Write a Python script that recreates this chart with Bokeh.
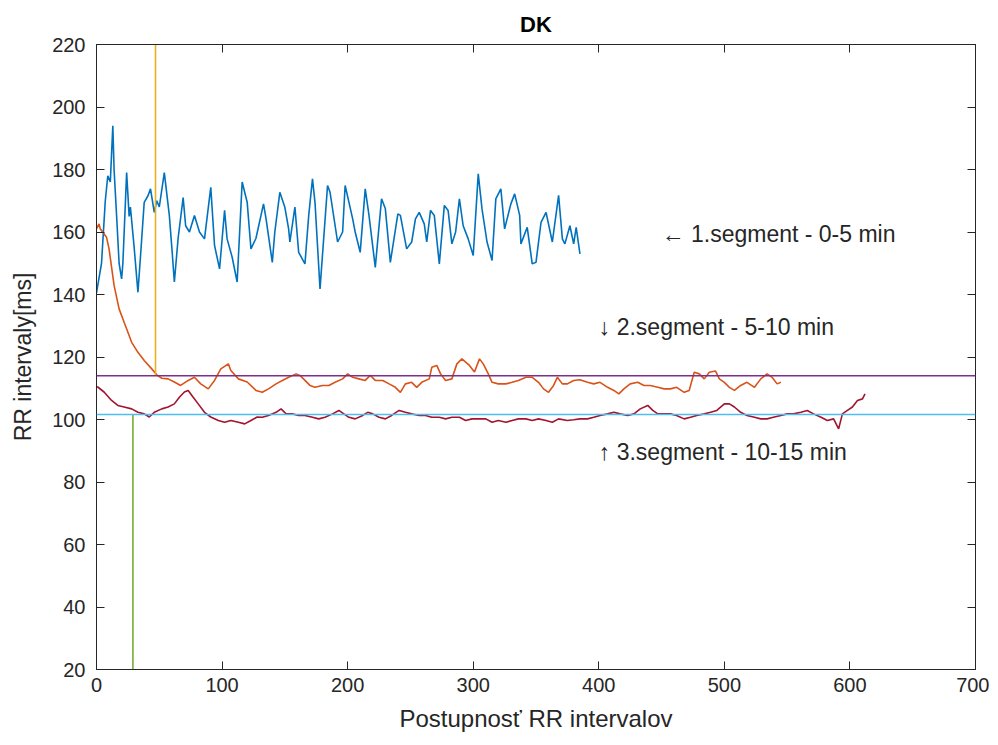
from bokeh.plotting import figure
from bokeh.models import LinearAxis, Range1d, FixedTicker, Span, Title
from bokeh.core.properties import value
from bokeh.embed import file_html
from bokeh.resources import INLINE

# ---- data ----
seg1_x = [0, 4, 7, 9, 11, 13, 14, 16, 18, 20, 21, 24, 26, 27, 30, 33, 35, 38, 41, 43, 46, 48, 50, 54, 58, 60,
          62, 65, 69, 71, 74, 78, 82, 86, 91, 94, 98, 102, 104, 108, 112, 116, 120, 123, 127, 133, 135, 140,
          142, 146, 150, 153, 154, 158, 161, 166, 169, 172, 174, 178, 184, 186, 192, 196, 198, 204, 206, 210,
          214, 217, 222, 227, 230, 234, 240, 242, 247, 251, 254, 257, 261, 263, 266, 269, 273, 277, 280, 283,
          286, 289, 292, 296, 300, 304, 307, 311, 315, 318, 322, 325, 330, 333, 337, 338, 343, 347, 350, 354,
          358, 363, 368, 371, 373, 377, 380, 382, 385]
seg1_y = [140.5, 150, 170, 178, 176, 194, 180, 165.3, 150, 145, 150, 179, 165, 168, 155, 140.7, 152, 169.5,
          171.6, 173.8, 166.3, 170, 168, 179, 165.3, 155, 144, 158, 171, 162, 160, 165.3, 160, 157.8, 174.3,
          155.7, 148.2, 166.9, 157.8, 152, 144, 176, 169.5, 154.6, 158, 169, 164.3, 150.3, 160, 172.7, 167.9,
          161, 156.8, 168, 153.5, 149.8, 165.3, 177, 169.5, 141.8, 174.9, 172.7, 156.8, 160, 174.9, 164.2,
          160, 153.5, 173.8, 165.3, 148.7, 170.6, 167.5, 150.3, 165.8, 165.3, 154.6, 156.8, 164.2, 166.3,
          162.6, 156.8, 166.9, 165.3, 149.8, 168.5, 166.9, 156.2, 160, 170.6, 162, 157.8, 152.5, 178.6, 167.4,
          156.8, 150.9, 170.6, 173.8, 161, 169, 172.2, 165.3, 156.2, 161.5, 149.8, 150.3, 163.1, 166.3, 156.8,
          171.7, 157.8, 156.2, 162, 156.2, 161.5, 153]

seg2_x = [0, 2, 3, 4, 8, 10, 14, 18, 22, 28, 33, 38, 44, 48, 52, 57, 62, 67, 73, 78, 83, 89, 94, 99, 105, 107,
          113, 120, 127, 132, 137, 143, 148, 153, 159, 162, 166, 170, 174, 180, 185, 190, 196, 200, 204, 209,
          214, 218, 222, 228, 233, 238, 242, 246, 251, 255, 259, 265, 267, 271, 274, 278, 283, 287, 291, 297,
          301, 305, 308, 312, 315, 320, 326, 331, 336, 342, 347, 352, 356, 360, 364, 367, 371, 375, 380, 385,
          391, 396, 401, 407, 412, 416, 420, 425, 431, 436, 441, 447, 452, 457, 462, 468, 472, 476, 480, 484,
          488, 493, 496, 500, 504, 508, 513, 518, 524, 529, 534, 538, 542, 545]
seg2_y = [161, 162.6, 161, 160.5, 158.3, 154.6, 142.9, 135.4, 131.1, 124.7, 121.5, 118.9, 116.2, 114.3, 113.2,
          113, 112, 110.9, 112.5, 113.5, 111.4, 109.8, 112.5, 116.2, 117.8, 115.7, 113, 112, 109.3, 108.7,
          109.8, 111.4, 112.5, 113.5, 114.6, 114.1, 112.5, 110.9, 110.3, 110.9, 110.9, 111.9, 113, 114.6,
          113.5, 113, 112.5, 114.1, 112.5, 112.5, 111.4, 110.3, 108.7, 111.4, 111.9, 110.3, 111.9, 113, 116.7,
          117.3, 114.6, 112.5, 113, 117.8, 119.4, 117.3, 115.2, 119.4, 117.8, 114.6, 111.9, 111.4, 111.4,
          111.9, 112.5, 113.5, 113.5, 111.9, 109.8, 108.7, 110.9, 113.5, 111.4, 111.4, 112.5, 112.7, 111.9,
          111.4, 111.9, 110.3, 109.3, 108.2, 109.8, 111.4, 111.9, 110.9, 110.9, 110.3, 109.8, 109.8, 110.3,
          108.7, 109.3, 115.1, 114.6, 113, 115.1, 115.5, 113, 111.9, 110.3, 109.3, 110.9, 111.9, 110.3, 113,
          114.6, 113.5, 111.4, 111.9]

seg3_x = [0, 1, 6, 12, 17, 22, 28, 33, 38, 42, 46, 52, 57, 62, 66, 70, 73, 77, 81, 86, 91, 97, 102, 107, 113,
          118, 123, 128, 132, 137, 143, 147, 151, 156, 161, 166, 172, 177, 182, 188, 193, 197, 201, 206, 212,
          216, 220, 225, 230, 235, 241, 246, 251, 257, 262, 267, 273, 278, 283, 289, 294, 299, 305, 310, 315,
          320, 326, 331, 336, 342, 347, 352, 358, 363, 368, 375, 380, 385, 391, 396, 401, 407, 412, 417, 423,
          428, 433, 439, 443, 447, 452, 457, 462, 468, 473, 478, 484, 489, 494, 500, 504, 508, 513, 518, 524,
          529, 534, 539, 545, 550, 555, 561, 566, 571, 577, 582, 587, 591, 594, 598, 602, 606, 610, 612]
seg3_y = [110.5, 110.4, 108.8, 106.1, 104.5, 104, 103.4, 102.3, 101.8, 100.8, 102.3, 103.4, 104, 105, 107.1,
          108.8, 109.3, 107.1, 105, 102.3, 100.8, 99.7, 99.1, 99.7, 99.1, 98.6, 99.7, 100.8, 100.7, 101.3,
          102.3, 103.4, 101.8, 101.8, 101.3, 101.3, 100.7, 100.2, 100.7, 101.8, 102.9, 101.8, 100.7, 100.2,
          101.3, 102.3, 101.8, 100.7, 100.2, 101.3, 102.9, 102.3, 101.8, 101.3, 101.3, 100.7, 100.7, 100.2,
          100.7, 100.7, 99.7, 100.2, 100.2, 100.2, 99.1, 99.7, 99.1, 99.7, 100.2, 100.2, 99.7, 100.2, 99.7,
          99.1, 100.2, 99.7, 99.9, 100.2, 100.2, 100.7, 101.3, 101.8, 102.3, 101.8, 101.3, 101.8, 103.4,
          104.5, 102.9, 101.8, 101.8, 101.8, 101.3, 100.2, 100.7, 101.3, 101.8, 102.3, 102.9, 105, 105, 104,
          102.3, 101.3, 100.7, 100.2, 100.2, 100.7, 101.3, 101.8, 101.8, 102.3, 102.9, 101.8, 100.7, 99.7,
          100.2, 97, 101.8, 102.9, 104, 106.1, 106.6, 108.2]

mean2 = 114.0      # purple horizontal line
mean3 = 101.6      # cyan horizontal line
mark2_x = 47       # yellow vertical marker
mark3_x = 29       # green vertical marker

ann_x = [450, 400, 400]
ann_y = [159.5, 129.5, 89.5]
ann_text = ["\u2190 1.segment - 0-5 min", "\u2193 2.segment - 5-10 min", "\u2191 3.segment - 10-15 min"]

x_ticks = [0, 100, 200, 300, 400, 500, 600, 700]
y_ticks = [20, 40, 60, 80, 100, 120, 140, 160, 180, 200, 220]

FONT = "Liberation Sans"
AX = "#262626"

p = figure(frame_width=879, frame_height=625, x_range=Range1d(0, 700), y_range=Range1d(20, 220),
           output_backend="svg", toolbar_location=None,
           min_border_left=96, min_border_top=44, min_border_right=14, min_border_bottom=68)
p.title = Title(text="DK", align="center", text_font=FONT, text_font_size="22px",
                text_font_style="bold", text_color="#000000", offset=0, standoff=16)
p.background_fill_color = "white"
p.border_fill_color = "white"
p.outline_line_color = AX
p.outline_line_width = 1
p.grid.visible = False

for ax in (p.xaxis[0], p.yaxis[0]):
    ax.major_tick_in = 8
    ax.major_tick_out = 0
    ax.minor_tick_line_color = None
    ax.axis_line_color = AX
    ax.major_tick_line_color = AX
    ax.major_label_text_font = FONT
    ax.major_label_text_font_size = "20px"
    ax.major_label_text_color = AX
    ax.axis_label_text_font = FONT
    ax.axis_label_text_font_style = "normal"
    ax.axis_label_text_color = AX
p.xaxis[0].ticker = FixedTicker(ticks=x_ticks)
p.yaxis[0].ticker = FixedTicker(ticks=y_ticks)
p.xaxis[0].axis_label = "Postupnosť RR intervalov"
p.yaxis[0].axis_label = "RR intervaly[ms]"
p.xaxis[0].axis_label_text_font_size = "24px"
p.yaxis[0].axis_label_text_font_size = "23px"
p.xaxis[0].major_label_standoff = 8
p.yaxis[0].major_label_standoff = 11
p.xaxis[0].axis_label_standoff = 10
p.yaxis[0].axis_label_standoff = 13

top = LinearAxis(ticker=FixedTicker(ticks=x_ticks), major_tick_in=8, major_tick_out=0,
                 minor_tick_line_color=None, axis_line_color=AX, major_tick_line_color=AX,
                 major_label_overrides={t: "" for t in x_ticks}, major_label_standoff=0)
right = LinearAxis(ticker=FixedTicker(ticks=y_ticks), major_tick_in=8, major_tick_out=0,
                   minor_tick_line_color=None, axis_line_color=AX, major_tick_line_color=AX,
                   major_label_overrides={t: "" for t in y_ticks}, major_label_standoff=0)
p.add_layout(top, "above")
p.add_layout(right, "right")

p.line(seg1_x, seg1_y, line_color="#0072BD", line_width=1.6)
p.line(seg2_x, seg2_y, line_color="#D95319", line_width=1.6)
p.line(seg3_x, seg3_y, line_color="#A2142F", line_width=1.6)

p.add_layout(Span(location=mean2, dimension="width", line_color="#7E2F8E", line_width=1.6))
p.add_layout(Span(location=mean3, dimension="width", line_color="#4DBEEE", line_width=1.6))
p.segment(x0=[mark2_x], y0=[mean2], x1=[mark2_x], y1=[220], line_color="#EDB120", line_width=1.6)
p.segment(x0=[mark3_x], y0=[20], x1=[mark3_x], y1=[mean3], line_color="#77AC30", line_width=1.6)

p.text(x=ann_x, y=ann_y, text=ann_text, text_font=value(FONT), text_font_size="23px",
       text_align="left", text_baseline="middle", text_color=AX)

open("out.html", "w").write(file_html(p, INLINE))
